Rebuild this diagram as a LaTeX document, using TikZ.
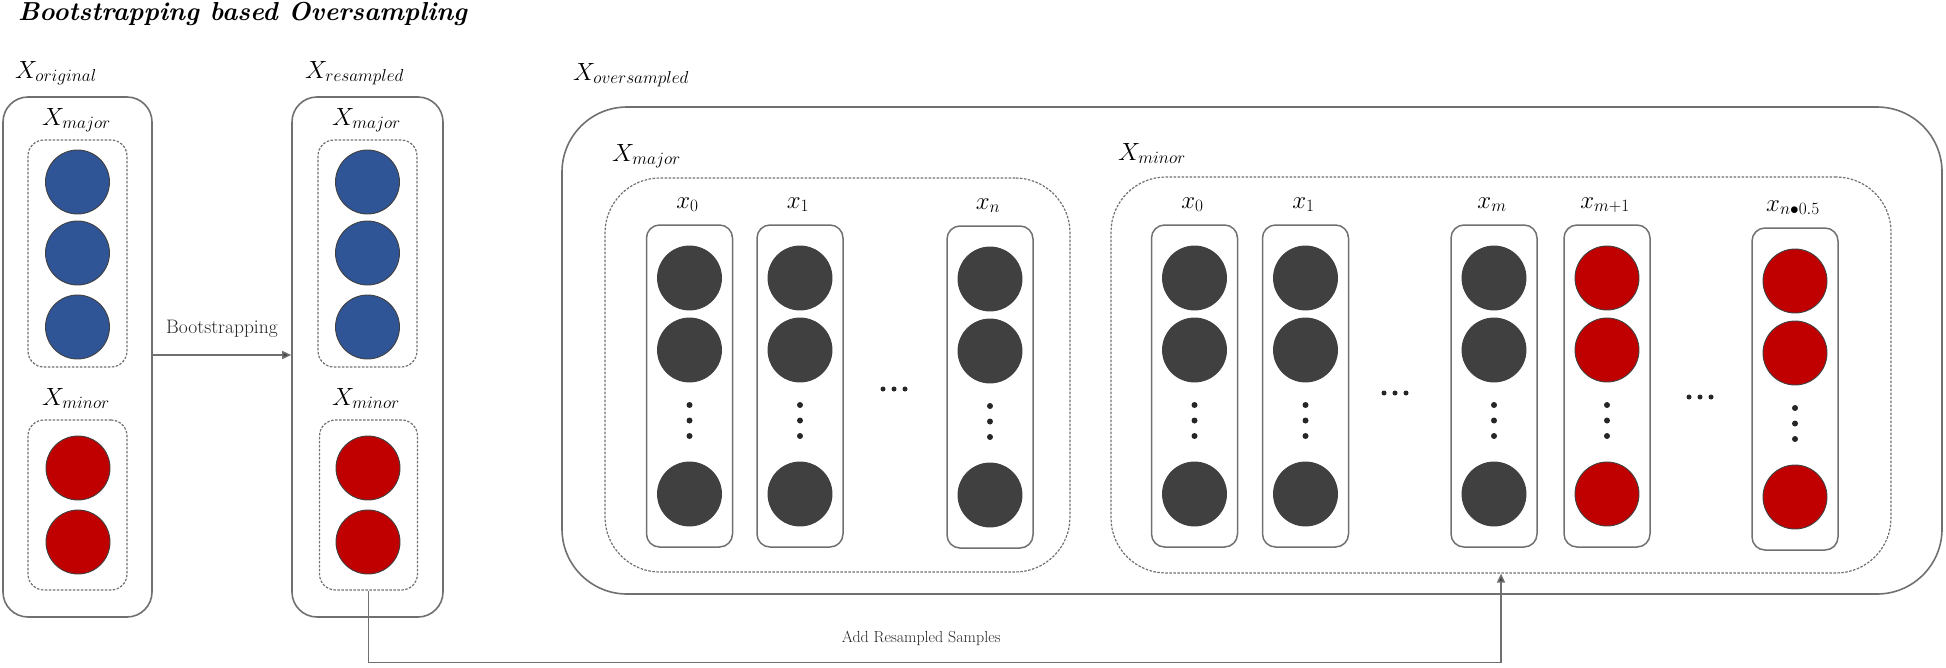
\documentclass[tikz,border=0pt]{standalone}
\usepackage{amsmath,amsfonts}
\usepackage{tikz}
\usetikzlibrary{arrows.meta}
\DeclareMathSizes{23}{23}{19}{14}
\definecolor{majblue}{RGB}{47,85,151}
\definecolor{minred}{RGB}{192,0,0}
\definecolor{sampgray}{RGB}{64,64,64}
\definecolor{linegray}{RGB}{112,112,112}
\tikzstyle{setbox}=[draw=linegray, line width=1.6pt, rounded corners=25pt, inner sep=0pt]
\tikzstyle{bigbox}=[setbox, rounded corners=65pt]
\tikzstyle{subset}=[draw=linegray, line width=1.2pt, dash pattern=on 2.5pt off 1.5pt, rounded corners=16pt, inner sep=0pt]
\tikzstyle{bigsubset}=[subset, rounded corners=55pt]
\tikzstyle{sample}=[draw=linegray, line width=1.5pt, rounded corners=13pt, minimum width=86pt, minimum height=322pt, inner sep=0pt]
\tikzstyle{ball}=[circle, draw=black!75, line width=0.9pt, minimum size=64pt, inner sep=0pt]
\tikzstyle{vdot}=[circle, fill=black!85, minimum size=6pt, inner sep=0pt]
\tikzstyle{hdot}=[circle, fill=black!85, minimum size=5pt, inner sep=0pt]
\tikzstyle{setname}=[anchor=base west, inner sep=0pt, font=\fontsize{23}{27}\selectfont]
\tikzstyle{colname}=[anchor=base, inner sep=0pt, font=\fontsize{24}{28}\selectfont]
\tikzstyle{conn}=[draw=linegray, line width=1.5pt, -{Triangle[length=9pt,width=8pt,fill=black!75]}]
\tikzstyle{connlabel}=[inner sep=0pt, text=black!85]

\begin{document}
\begin{tikzpicture}[x=1pt, y=-1pt]
        \useasboundingbox (0,0) rectangle (1946,667);
        \node[anchor=base west, inner sep=0pt, font=\fontsize{26}{31}\selectfont\bfseries\itshape] (title) at (18,20) {Bootstrapping based Oversampling};

        % original and resampled sets
        \node[setbox, minimum width=149pt, minimum height=520pt] (orig) at (77.5,357) {};
        \node[subset, minimum width=99pt, minimum height=227pt] (origmaj) at (77.5,253.5) {};
        \node[subset, minimum width=99pt, minimum height=170pt] (origmin) at (77.5,505) {};
        \node[setbox, minimum width=151pt, minimum height=520pt] (res) at (367.5,357) {};
        \node[subset, minimum width=99pt, minimum height=227pt] (resmaj) at (367.5,253.5) {};
        \node[subset, minimum width=98pt, minimum height=170pt] (resmin) at (368.5,505) {};

        \node[setname] (origlab) at (15,78) {$X_{original}$};
        \node[setname] (reslab) at (305,78) {$X_{resampled}$};
        \node[setname] (origmajlab) at (42,125) {$X_{major}$};
        \node[setname] (origminlab) at (42,405) {$X_{minor}$};
        \node[setname] (resmajlab) at (332,125) {$X_{major}$};
        \node[setname] (resminlab) at (332,405) {$X_{minor}$};

        \foreach \set/\cx in {orig/77.5, res/367.5} {
            \foreach \cy [count=\k] in {182,253,327}
                \node[ball, fill=majblue] (\set-maj\k) at (\cx,\cy) {};
            \foreach \cy [count=\k] in {468,542}
                \node[ball, fill=minred] (\set-min\k) at (\cx+0.5,\cy) {};
        }

        % oversampled set
        \node[bigbox, minimum width=1380pt, minimum height=487pt] (over) at (1252,350.5) {};
        \node[bigsubset, minimum width=465pt, minimum height=394pt] (omaj) at (837.5,375) {};
        \node[bigsubset, minimum width=780pt, minimum height=396pt] (omin) at (1501,375) {};
        \node[setname] (overlab) at (573,80) {$X_{oversampled}$};
        \node[setname] (omajlab) at (612,161) {$X_{major}$};
        \node[setname] (ominlab) at (1118,160) {$X_{minor}$};

        \foreach \name/\cx/\cy/\col/\lab in {a0/689.5/386/sampgray/x_0, a1/800/386/sampgray/x_1, an/990/387/sampgray/x_n,
                b0/1194.5/386/sampgray/x_0, b1/1305.5/386/sampgray/x_1, bm/1494/386/sampgray/x_m,
                bm1/1607/386/minred/x_{m+1}, bn/1795/389/minred/x_{n\bullet0.5}} {
            \node[sample] (\name) at (\cx,\cy) {};
            \node[colname] (\name-lab) at (\cx-2,\cy-178) {$\lab$};
            \foreach \dy [count=\k] in {-108,-36,108}
                \node[ball, fill=\col] (\name-b\k) at (\cx,\cy+\dy) {};
            \foreach \dy [count=\k] in {19,34.5,50}
                \node[vdot] (\name-d\k) at (\cx,\cy+\dy) {};
        }
        \foreach \name/\cx/\cy in {ha/894/389, hb/1395/393, hc/1700/397}
            \foreach \dx [count=\k] in {-11,0,11}
                \node[hdot] (\name\k) at (\cx+\dx,\cy) {};

        % connectors
        \draw[conn] (orig.east |- 0,355) -- (res.west |- 0,355)
            node[connlabel, midway, above=17pt, font=\fontsize{19.5}{23}\selectfont] (bootlab) {Bootstrapping};
        \draw[conn] (resmin.south) -- ++(0,72) -| (omin.south)
            node[connlabel, pos=0.244, above=16pt, font=\fontsize{16}{19}\selectfont] (addlab) {Add Resampled Samples};
\end{tikzpicture}
\end{document}
